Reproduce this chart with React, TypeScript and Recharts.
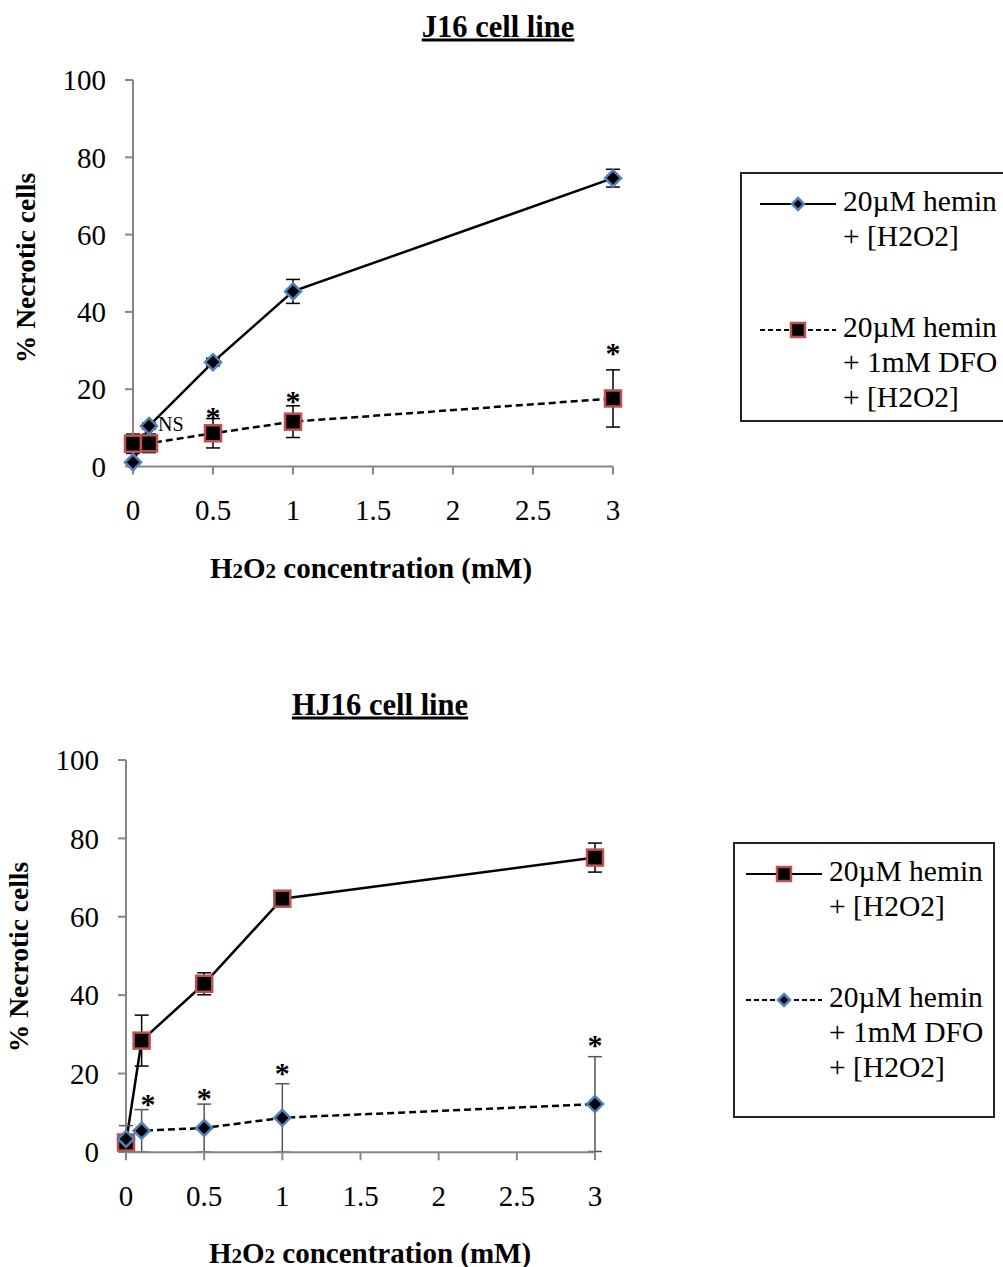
import React from 'react';
import { LineChart, Line, XAxis, YAxis, ErrorBar, ReferenceDot } from 'recharts';

// x values (mM H2O2)
const concentrations = [0, 0.1, 0.5, 1, 3];
const xTicks = [0, 0.5, 1, 1.5, 2, 2.5, 3];
const yTicks = [0, 20, 40, 60, 80, 100];

// J16 cell line
const j16Hemin = [1.1, 10.5, 27.0, 45.3, 74.6];
const j16HeminErr = [0.5, 0.8, 1.0, 3.1, 2.3];
const j16Dfo = [5.9, 6.0, 8.6, 11.6, 17.6];
const j16DfoErr = [2.5, 2.4, 3.8, 4.1, 7.4];
const j16StarX = [0.5, 1, 3];
const j16StarY = [15.1, 19.1, 31.7];

// HJ16 cell line
const hj16Hemin = [2.4, 28.4, 42.9, 64.6, 75.1];
const hj16HeminErr = [1.0, 6.5, 2.8, 0.8, 3.7];
const hj16Dfo = [3.3, 5.4, 6.1, 8.7, 12.2];
const hj16DfoErr = [3.4, 5.4, 6.1, 8.7, 12.1];
const hj16StarX = [0.14, 0.5, 1, 3];
const hj16StarY = [14.4, 15.9, 22.4, 29.5];

const FONT = '"Liberation Serif", "Times New Roman", serif';
const BLUE = '#4f81bd';
const RED = '#c0504d';
const AXIS = '#868686';

const j16Data = concentrations.map((x, i) => ({
  x,
  hemin: j16Hemin[i],
  heminErr: j16HeminErr[i],
  dfo: j16Dfo[i],
  dfoErr: j16DfoErr[i],
}));

const hj16Data = concentrations.map((x, i) => ({
  x,
  hemin: hj16Hemin[i],
  heminErr: hj16HeminErr[i],
  dfo: hj16Dfo[i],
  dfoErr: hj16DfoErr[i],
}));

const Diamond = ({ cx, cy, s = 8 }: { cx: number; cy: number; s?: number }) => (
  <path
    d={`M${cx},${cy - s}L${cx + s},${cy}L${cx},${cy + s}L${cx - s},${cy}Z`}
    fill="#000"
    stroke={BLUE}
    strokeWidth={2.5}
  />
);

const Square = ({ cx, cy, s = 8 }: { cx: number; cy: number; s?: number }) => (
  <rect x={cx - s} y={cy - s} width={s * 2} height={s * 2} fill="#000" stroke={RED} strokeWidth={2.5} />
);

const diamondDot = (props: any) => <Diamond key={`d-${props.index}`} cx={props.cx} cy={props.cy} />;
const squareDot = (props: any) => <Square key={`s-${props.index}`} cx={props.cx} cy={props.cy} />;

const tickStyle = { fill: '#000', fontSize: 29, fontFamily: FONT };

function LegendBox({
  left, top, width, height, first, second, inset = 0,
}: {
  left: number; top: number; width: number; height: number;
  first: 'diamond' | 'square'; second: 'diamond' | 'square'; inset?: number;
}) {
  const marker = (kind: 'diamond' | 'square', dashed: boolean) => (
    <svg width={80} height={24} style={{ position: 'absolute', left: 16 + inset, top: 18 }}>
      <line x1={2} y1={12} x2={78} y2={12} stroke="#000" strokeWidth={2}
        strokeDasharray={dashed ? '5 3' : undefined} />
      {kind === 'diamond' ? <Diamond cx={40} cy={12} s={6} /> : <Square cx={40} cy={12} s={7} />}
    </svg>
  );
  const text: React.CSSProperties = {
    position: 'absolute', left: 101 + inset, fontSize: 29.5, lineHeight: '35px', fontFamily: FONT, whiteSpace: 'nowrap',
  };
  return (
    <div style={{ position: 'absolute', left, top, width, height, border: '2px solid #222', boxSizing: 'border-box' }}>
      <div style={{ position: 'absolute', left: 0, top: 0 }}>
        {marker(first, false)}
        <div style={{ ...text, top: 10 }}>20µM hemin<br />+ [H2O2]</div>
      </div>
      <div style={{ position: 'absolute', left: 0, top: 126 }}>
        {marker(second, true)}
        <div style={{ ...text, top: 10 }}>20µM hemin<br />+ 1mM DFO<br />+ [H2O2]</div>
      </div>
    </div>
  );
}

const centered = (x: number, y: number, extra: React.CSSProperties = {}): React.CSSProperties => ({
  position: 'absolute', left: x, top: y, transform: 'translate(-50%, -50%)', fontFamily: FONT,
  fontWeight: 'bold', whiteSpace: 'nowrap', ...extra,
});

const XLabel = () => (
  <span>H<span style={{ fontSize: 21 }}>2</span>O<span style={{ fontSize: 21 }}>2</span> concentration (mM)</span>
);

const starLabel = { value: '*', position: 'center' as const, fontSize: 30, fontWeight: 'bold', fill: '#000', fontFamily: FONT, dy: 8 };

export default function App() {
  return (
    <div style={{ position: 'absolute', left: 0, top: 0, width: 1003, height: 1267, background: '#fff', overflow: 'hidden' }}>
      {/* J16 */}
      <div style={centered(498, 27, { fontSize: 30.5, textDecoration: 'underline' })}>J16 cell line</div>
      <div style={centered(26, 268, { fontSize: 27.5, transform: 'translate(-50%, -50%) rotate(-90deg)' })}>% Necrotic cells</div>
      <div style={centered(371, 568, { fontSize: 29 })}><XLabel /></div>
      <div style={{ position: 'absolute', left: 0, top: 0 }}>
        <LineChart width={720} height={600} data={j16Data} margin={{ top: 80, right: 107, left: 0, bottom: 93.5 }}>
          <XAxis dataKey="x" type="number" domain={[0, 3]} ticks={xTicks} height={40} stroke={AXIS} strokeWidth={2}
            tickSize={8} tickMargin={25} tick={tickStyle} tickLine={{ stroke: AXIS, strokeWidth: 2 }} />
          <YAxis type="number" domain={[0, 100]} ticks={yTicks} width={133} stroke={AXIS} strokeWidth={2}
            tickSize={8} tickMargin={19} tick={tickStyle} tickLine={{ stroke: AXIS, strokeWidth: 2 }} />
          <Line dataKey="dfo" stroke="#000" strokeWidth={2.5} strokeDasharray="7 4" dot={squareDot} isAnimationActive={false}>
            <ErrorBar dataKey="dfoErr" direction="y" width={7} stroke="#000" strokeWidth={1.5} />
          </Line>
          <Line dataKey="hemin" stroke="#000" strokeWidth={2.5} dot={diamondDot} isAnimationActive={false}>
            <ErrorBar dataKey="heminErr" direction="y" width={7} stroke="#000" strokeWidth={1.5} />
          </Line>
          {j16StarX.map((x, i) => (
            <ReferenceDot key={`st-${i}`} x={x} y={j16StarY[i]} r={0} stroke="none" ifOverflow="visible" label={starLabel} />
          ))}
          <ReferenceDot x={concentrations[1]} y={j16Hemin[1] + 0.5} r={0} stroke="none" ifOverflow="visible"
            label={{ value: 'NS', position: 'right', offset: 9, fontSize: 20, fill: '#000', fontFamily: FONT }} />
        </LineChart>
      </div>
      <LegendBox left={740} top={172} width={280} height={250} first="diamond" second="square" />

      {/* HJ16 */}
      <div style={centered(380, 705, { fontSize: 30.5, textDecoration: 'underline' })}>HJ16 cell line</div>
      <div style={centered(19, 957, { fontSize: 27.5, transform: 'translate(-50%, -50%) rotate(-90deg)' })}>% Necrotic cells</div>
      <div style={centered(370, 1253, { fontSize: 29 })}><XLabel /></div>
      <div style={{ position: 'absolute', left: 0, top: 680 }}>
        <LineChart width={720} height={587} data={hj16Data} margin={{ top: 80, right: 125, left: 0, bottom: 74.7 }}>
          <XAxis dataKey="x" type="number" domain={[0, 3]} ticks={xTicks} height={40} stroke={AXIS} strokeWidth={2}
            tickSize={8} tickMargin={25} tick={tickStyle} tickLine={{ stroke: AXIS, strokeWidth: 2 }} />
          <YAxis type="number" domain={[0, 100]} ticks={yTicks} width={126} stroke={AXIS} strokeWidth={2}
            tickSize={8} tickMargin={19} tick={tickStyle} tickLine={{ stroke: AXIS, strokeWidth: 2 }} />
          <Line dataKey="hemin" stroke="#000" strokeWidth={2.5} dot={squareDot} isAnimationActive={false}>
            <ErrorBar dataKey="heminErr" direction="y" width={7} stroke="#000" strokeWidth={1.5} />
          </Line>
          <Line dataKey="dfo" stroke="#000" strokeWidth={2.5} strokeDasharray="7 4" dot={diamondDot} isAnimationActive={false}>
            <ErrorBar dataKey="dfoErr" direction="y" width={7} stroke="#555" strokeWidth={1.5} />
          </Line>
          {hj16StarX.map((x, i) => (
            <ReferenceDot key={`st2-${i}`} x={x} y={hj16StarY[i]} r={0} stroke="none" ifOverflow="visible" label={starLabel} />
          ))}
        </LineChart>
      </div>
      <LegendBox left={733} top={842} width={262} height={276} first="square" second="diamond" inset={-7} />
    </div>
  );
}
